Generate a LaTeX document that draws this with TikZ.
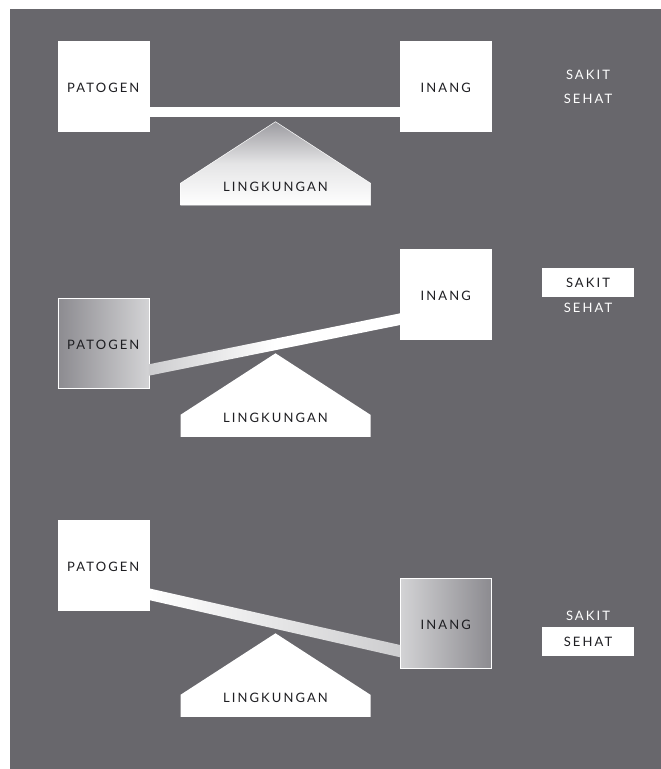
\documentclass[tikz,border=0pt]{standalone}
\usepackage{fontspec}
\setmainfont{Lato}[LetterSpace=16]
\usetikzlibrary{calc}
\definecolor{bg}{HTML}{68676C}
\definecolor{txt}{HTML}{1E1E22}
\definecolor{gdark}{HTML}{8C8B90}
\definecolor{glight}{HTML}{D3D3D5}
\definecolor{beamgray}{HTML}{CDCDCF}
\definecolor{tipgray}{HTML}{9C9BA0}
\begin{document}
\begin{tikzpicture}[x=1pt,y=-1pt,
  lbl/.style={font=\fontsize{13}{15}\selectfont},
  boxbase/.style={lbl, draw=white, line width=0.6pt, minimum width=91pt, minimum height=90pt, inner sep=0pt, outer sep=0pt, text=txt, text height=12pt, text depth=0pt},
  box/.style={boxbase, fill=white},
  gboxR/.style={boxbase, left color=gdark, right color=glight},
  gboxL/.style={boxbase, left color=glight, right color=gdark},
  wtext/.style={lbl, text=white, inner sep=0pt},
  tag/.style={lbl, fill=white, text=txt, minimum width=92pt, minimum height=28.4pt, inner sep=0pt},
  stand/.style={draw=white, line width=0.5pt},
  ltext/.style={lbl, text=txt, inner sep=0pt}
]
\useasboundingbox (0,0) rectangle (661,769);
\fill[bg] (10,9) rectangle (661,769);

% ---------- Panel 1 ----------
\node[box] (p1) at (103.3,86) {PATOGEN};
\node[box] (i1) at (445.7,86) {INANG};
\fill[white] ($(p1.east)+(0,20.7)$) rectangle ($(i1.west)+(0,30.7)$);
\coordinate (a1) at (275.5,121.7);
\shade[stand, top color=tipgray, bottom color=white, middle color=glight!60!white]
  (a1) -- ++(95,61.5) -- ++(0,22) -- ++(-190,0) -- ++(0,-22) -- cycle;
\node[ltext] (l1) at ($(a1)+(0,65)$) {LINGKUNGAN};
\node[wtext] (sak1) at (588,75) {SAKIT};
\node[wtext] (seh1) at (588,99) {SEHAT};

% ---------- Panel 2 ----------
\node[gboxR] (p2) at (103.3,343) {PATOGEN};
\node[box] (i2) at (445.7,294.5) {INANG};
\shade[left color=beamgray, right color=white, middle color=white]
  ($(p2.east)+(0,21.3)$) -- ($(i2.west)+(0,18.8)$) -- ($(i2.west)+(0,30.5)$) -- ($(p2.east)+(0,32.7)$) -- cycle;
\coordinate (a2) at (275.5,353.3);
\fill[white] (a2) -- ++(95,61.5) -- ++(0,22) -- ++(-190,0) -- ++(0,-22) -- cycle;
\node[ltext] (l2) at ($(a2)+(0,65)$) {LINGKUNGAN};
\node[tag] (sak2) at (588,282.5) {SAKIT};
\node[wtext] (seh2) at (588,307.7) {SEHAT};

% ---------- Panel 3 ----------
\node[box] (p3) at (103.3,565) {PATOGEN};
\node[gboxL] (i3) at (445.7,623.3) {INANG};
\shade[left color=white, middle color=white, right color=beamgray]
  ($(p3.east)+(0,23.3)$) -- ($(i3.west)+(0,21.7)$) -- ($(i3.west)+(0,34)$) -- ($(p3.east)+(0,35)$) -- cycle;
\coordinate (a3) at (275.5,633.3);
\fill[white] (a3) -- ++(95,61.5) -- ++(0,22) -- ++(-190,0) -- ++(0,-22) -- cycle;
\node[ltext] (l3) at ($(a3)+(0,65)$) {LINGKUNGAN};
\node[wtext] (sak3) at (588,616) {SAKIT};
\node[tag] (seh3) at (588,641.5) {SEHAT};
\end{tikzpicture}
\end{document}
